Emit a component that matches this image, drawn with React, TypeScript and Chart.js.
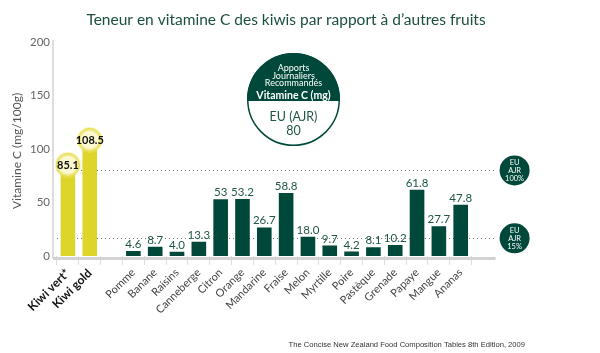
import React, { useEffect, useRef } from 'react';
import { Chart, registerables } from 'chart.js';

Chart.register(...registerables);

// ---- Data ----
const categories = ['Kiwi vert*', 'Kiwi gold', '', 'Pomme', 'Banane', 'Raisins', 'Canneberge', 'Citron', 'Orange', 'Mandarine', 'Fraise', 'Melon', 'Myrtille', 'Poire', 'Pastèque', 'Grenade', 'Papaye', 'Mangue', 'Ananas'];
const vitaminC = [85.1, 108.5, null, 4.6, 8.7, 4.0, 13.3, 53, 53.2, 26.7, 58.8, 18.0, 9.7, 4.2, 8.1, 10.2, 61.8, 27.7, 47.8];
const valueLabels = ['85.1', '108.5', '', '4.6', '8.7', '4.0', '13.3', '53', '53.2', '26.7', '58.8', '18.0', '9.7', '4.2', '8.1', '10.2', '61.8', '27.7', '47.8'];
const kiwiCategories = ['Kiwi vert*', 'Kiwi gold'];
const yMin = 0;
const yMax = 200;
const yStep = 50;
const refValues = [80, 16.5];
const refLabels = [['EU', 'AJR', '100%'], ['EU', 'AJR', '15%']];
const badgeTop = ['Apports', 'Journaliers', 'Recommandés'];
const badgeHeading = 'Vitamine C (mg)';
const badgeBottom = ['EU (AJR)', '80'];
const titleText = 'Teneur en vitamine C des kiwis par rapport à d’autres fruits';
const yTitleText = 'Vitamine C (mg/100g)';
const sourceText = 'The Concise New Zealand Food Composition Tables 8th Edition, 2009';

// ---- Styles ----
const GREEN = '#00483a';
const YELLOW = '#ded52b';
const TEXT_GREEN = '#1f5547';
const FONT = 'Lato';

const isKiwi = (i: number) => kiwiCategories.includes(categories[i]);

const decorPlugin = {
  id: 'decor',
  beforeDatasetsDraw(chart: any) {
    const { ctx, chartArea } = chart;
    const y = chart.scales.y;
    ctx.save();
    ctx.strokeStyle = '#d2d2d2';
    ctx.lineWidth = 1.5;
    ctx.beginPath();
    ctx.moveTo(chartArea.left - 4, chartArea.top - 2);
    ctx.lineTo(chartArea.left - 4, chartArea.bottom + 3);
    ctx.stroke();
    ctx.strokeStyle = '#7a7a7a';
    ctx.lineWidth = 1;
    ctx.setLineDash([1, 3]);
    refValues.forEach((v) => {
      const py = Math.round(y.getPixelForValue(v)) + 0.5;
      ctx.beginPath();
      ctx.moveTo(chartArea.left, py);
      ctx.lineTo(chartArea.right + 24, py);
      ctx.stroke();
    });
    ctx.restore();
  },
  afterDatasetsDraw(chart: any) {
    const { ctx, chartArea } = chart;
    const y = chart.scales.y;
    const meta = chart.getDatasetMeta(0);
    ctx.save();
    ctx.fillStyle = '#d3d3d3';
    ctx.fillRect(chartArea.left - 4, chartArea.bottom + 1, chartArea.right + 24 - (chartArea.left - 4), 3);

    meta.data.forEach((bar: any, i: number) => {
      const v = vitaminC[i];
      if (v === null || v === undefined) return;
      const { x, y: by } = bar.getProps(['x', 'y'], true);
      if (isKiwi(i)) {
        ctx.beginPath();
        ctx.arc(x, by, 13, 0, Math.PI * 2);
        ctx.fillStyle = 'rgba(240, 232, 120, 0.45)';
        ctx.fill();
        ctx.beginPath();
        ctx.arc(x, by, 11.5, 0, Math.PI * 2);
        ctx.fillStyle = '#f2ec8c';
        ctx.fill();
        ctx.lineWidth = 1;
        ctx.strokeStyle = '#e3da45';
        ctx.stroke();
        ctx.beginPath();
        ctx.arc(x, by, 9.5, 0, Math.PI * 2);
        ctx.fillStyle = '#fbf8cf';
        ctx.fill();
        ctx.setLineDash([1, 1]);
        ctx.strokeStyle = '#e8df5a';
        ctx.stroke();
        ctx.setLineDash([]);
        ctx.fillStyle = '#111';
        ctx.font = `bold 11px ${FONT}`;
        ctx.textAlign = 'center';
        ctx.textBaseline = 'middle';
        ctx.fillText(valueLabels[i], x, by + 0.5);
      } else {
        ctx.fillStyle = TEXT_GREEN;
        ctx.font = `11.5px ${FONT}`;
        ctx.textAlign = 'center';
        ctx.textBaseline = 'alphabetic';
        ctx.fillText(valueLabels[i], x, by - 3);
      }
    });

    refValues.forEach((v, k) => {
      const py = y.getPixelForValue(v);
      const cx = chartArea.right + 43;
      ctx.beginPath();
      ctx.arc(cx, py, 15, 0, Math.PI * 2);
      ctx.fillStyle = GREEN;
      ctx.fill();
      ctx.fillStyle = '#fff';
      ctx.font = `7.5px ${FONT}`;
      ctx.textAlign = 'center';
      ctx.textBaseline = 'middle';
      refLabels[k].forEach((t, j) => ctx.fillText(t, cx, py - 8 + j * 8));
    });

    const bx = 293.5, byc = 99.5, br = 46.5, split = 101;
    ctx.beginPath();
    ctx.arc(bx, byc, br, 0, Math.PI * 2);
    ctx.fillStyle = '#fff';
    ctx.fill();
    ctx.save();
    ctx.beginPath();
    ctx.arc(bx, byc, br, 0, Math.PI * 2);
    ctx.clip();
    ctx.fillStyle = GREEN;
    ctx.fillRect(bx - br - 2, byc - br - 2, br * 2 + 4, split - (byc - br - 2));
    ctx.restore();
    ctx.beginPath();
    ctx.arc(bx, byc, br - 0.75, 0, Math.PI * 2);
    ctx.strokeStyle = GREEN;
    ctx.lineWidth = 1.5;
    ctx.stroke();
    ctx.fillStyle = '#fff';
    ctx.textAlign = 'center';
    ctx.textBaseline = 'middle';
    ctx.font = `9px ${FONT}`;
    badgeTop.forEach((t, j) => ctx.fillText(t, bx, 68 + j * 7.7));
    ctx.font = `bold 10.5px ${FONT}`;
    ctx.fillText(badgeHeading, bx, 96);
    ctx.fillStyle = TEXT_GREEN;
    ctx.font = `12.5px ${FONT}`;
    badgeBottom.forEach((t, j) => ctx.fillText(t, bx, 117 + j * 14));

    ctx.fillStyle = '#1c4f41';
    ctx.font = `15.5px ${FONT}`;
    ctx.textAlign = 'center';
    ctx.textBaseline = 'middle';
    ctx.fillText(titleText, 286, 20);

    ctx.save();
    ctx.translate(17, 151);
    ctx.rotate(-Math.PI / 2);
    ctx.fillStyle = '#555';
    ctx.font = `12px ${FONT}`;
    ctx.fillText(yTitleText, 0, 0);
    ctx.restore();

    ctx.fillStyle = '#333';
    ctx.font = `7.6px "Liberation Sans"`;
    ctx.textAlign = 'right';
    ctx.textBaseline = 'middle';
    ctx.fillText(sourceText, 525, 345);
    ctx.restore();
  },
};

export default function App() {
  const ref = useRef<HTMLCanvasElement | null>(null);
  useEffect(() => {
    if (!ref.current) return;
    const chart = new Chart(ref.current, {
      type: 'bar',
      data: {
        labels: categories,
        datasets: [
          {
            data: vitaminC as any,
            backgroundColor: (c: any) => (isKiwi(c.dataIndex) ? YELLOW : GREEN),
            barPercentage: 0.67,
            categoryPercentage: 1,
          },
        ],
      },
      options: {
        responsive: false,
        animation: false,
        devicePixelRatio: 1,
        layout: { padding: { top: 42, right: 128.4, left: 0, bottom: 0 } },
        plugins: { legend: { display: false }, tooltip: { enabled: false }, title: { display: false } },
        scales: {
          x: {
            offset: true,
            border: { display: false },
            grid: { display: true, offset: true, drawOnChartArea: false, drawTicks: true, tickLength: 9, color: '#dedede', lineWidth: 1 },
            ticks: {
              autoSkip: false,
              maxRotation: 45,
              minRotation: 45,
              padding: 1,
              color: (c: any) => (isKiwi(c.index) ? '#111' : '#444'),
              font: (c: any) => (isKiwi(c.index) ? { family: FONT, size: 12, weight: 'bold' } : { family: FONT, size: 11, weight: 'normal' }),
            },
            afterFit: (s: any) => { s.height = 97; },
          },
          y: {
            min: yMin,
            max: yMax,
            border: { display: false },
            grid: { display: false, drawTicks: false },
            ticks: { stepSize: yStep, padding: 7, color: '#666', font: { family: FONT, size: 11.5 } },
            afterFit: (s: any) => { s.width = 57; },
          },
        },
      },
      plugins: [decorPlugin],
    });
    return () => chart.destroy();
  }, []);
  return (
    <div style={{ position: 'absolute', left: 0, top: 0, width: 600, height: 353, background: '#fff' }}>
      <canvas ref={ref} width={600} height={353} style={{ display: 'block' }} />
    </div>
  );
}
